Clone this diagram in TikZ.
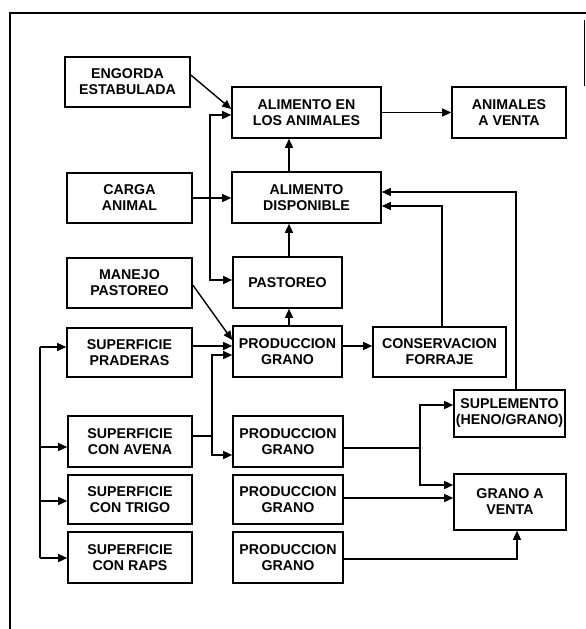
\documentclass[tikz,border=0pt]{standalone}
\usepackage{fontspec}
\setmainfont{Liberation Sans}
\usetikzlibrary{arrows.meta}
\begin{document}
\begin{tikzpicture}[x=1pt,y=-1pt,
  box/.style={draw,line width=1.6pt,rectangle,inner sep=0pt,align=center,
    font=\bfseries\fontsize{14.2}{16}\selectfont},
  arr/.style={line width=1.4pt,-{Triangle[length=9pt,width=8pt]}},
  ln/.style={line width=1.4pt}]
\useasboundingbox (0,0) rectangle (586,629);
% frame
\draw[line width=2.2pt] (10,629) -- (10,13) -- (586,13);
\draw[line width=1pt] (584,20) -- (584,86);
% boxes
\node[box,minimum width=125pt,minimum height=50pt] (eng) at (127.5,82) {ENGORDA\\ESTABULADA};
\node[box,minimum width=149pt,minimum height=51pt] (aen) at (306.5,112.5) {ALIMENTO EN\\LOS ANIMALES};
\node[box,minimum width=114pt,minimum height=51pt] (ave) at (509,112.5) {ANIMALES\\A VENTA};
\node[box,minimum width=125pt,minimum height=50pt] (car) at (129.5,198) {CARGA\\ANIMAL};
\node[box,minimum width=149pt,minimum height=51pt] (dis) at (306.5,197.5) {ALIMENTO\\DISPONIBLE};
\node[box,minimum width=125pt,minimum height=50pt] (man) at (129.5,283) {MANEJO\\PASTOREO};
\node[box,minimum width=109pt,minimum height=51pt] (pas) at (287.5,282.5) {PASTOREO};
\node[box,minimum width=125pt,minimum height=49pt] (pra) at (129.5,352.5) {SUPERFICIE\\PRADERAS};
\node[box,minimum width=109pt,minimum height=51pt] (pg1) at (287.5,351.5) {PRODUCCION\\GRANO};
\node[box,minimum width=133pt,minimum height=50pt] (con) at (439.5,352) {CONSERVACION\\FORRAJE};
\node[box,minimum width=111pt,minimum height=47pt] (sup) at (509.5,413.5) {SUPLEMENTO\\(HENO/GRANO)};
\node[box,minimum width=112pt,minimum height=56pt] (gav) at (510,502) {GRANO A\\VENTA};
\node[box,minimum width=124pt,minimum height=51pt] (sav) at (130,441.5) {SUPERFICIE\\CON AVENA};
\node[box,minimum width=124pt,minimum height=49pt] (str) at (130,499.5) {SUPERFICIE\\CON TRIGO};
\node[box,minimum width=124pt,minimum height=51pt] (sra) at (130,557.5) {SUPERFICIE\\CON RAPS};
\node[box,minimum width=110pt,minimum height=51pt] (pg2) at (288,441.5) {PRODUCCION\\GRANO};
\node[box,minimum width=110pt,minimum height=49pt] (pg3) at (288,499.5) {PRODUCCION\\GRANO};
\node[box,minimum width=110pt,minimum height=51pt] (pg4) at (288,557.5) {PRODUCCION\\GRANO};
% junctions
\coordinate (j1) at (210,198);
\coordinate (j2) at (212,436);
\coordinate (j3) at (420,448);
\coordinate (b1) at (40,347);
\coordinate (b4) at (40,558);
% connectors
\draw[arr] (eng.east |- 0,75) -- (aen.west |- 0,109);
\draw[arr] (aen.east) -- (ave.west);
\draw[arr] (car.east |- j1) -- (dis.west |- j1);
\draw[arr] (j1) |- (aen.west |- 0,115);
\draw[arr] (j1) |- (pas.west |- 0,280);
\draw[arr] (dis.north -| 289,0) -- (aen.south -| 289,0);
\draw[arr] (pas.north -| 289,0) -- (dis.south -| 289,0);
\draw[arr] (pg1.north -| 289,0) -- (pas.south -| 289,0);
\draw[arr] (man.east |- 0,285) -- (pg1.west |- 0,340);
\draw[arr] (pra.east |- 0,346) -- (pg1.west |- 0,346);
\draw[ln] (sav.east |- j2) -- (j2);
\draw[arr] (j2) |- (pg1.west |- 0,355);
\draw[arr] (j2) |- (pg2.west |- 0,455);
\draw[arr] (pg1.east |- 0,346) -- (con.west |- 0,346);
\draw[arr] (con.north -| 442,0) |- (dis.east |- 0,206);
\draw[arr] (sup.north -| 516,0) |- (dis.east |- 0,192);
\draw[ln] (pg2.east |- j3) -- (j3);
\draw[arr] (j3) |- (sup.west |- 0,405);
\draw[arr] (j3) |- (gav.west |- 0,485);
\draw[arr] (pg3.east |- 0,498) -- (gav.west |- 0,498);
\draw[arr] (pg4.east |- 0,559) -| (gav.south -| 517,0);
\draw[ln] (b4) -- (b1);
\draw[arr] (b1) -- (pra.west |- b1);
\draw[arr] (40,447) -- (sav.west |- 0,447);
\draw[arr] (40,501) -- (str.west |- 0,501);
\draw[arr] (b4) -- (sra.west |- b4);
\end{tikzpicture}
\end{document}
